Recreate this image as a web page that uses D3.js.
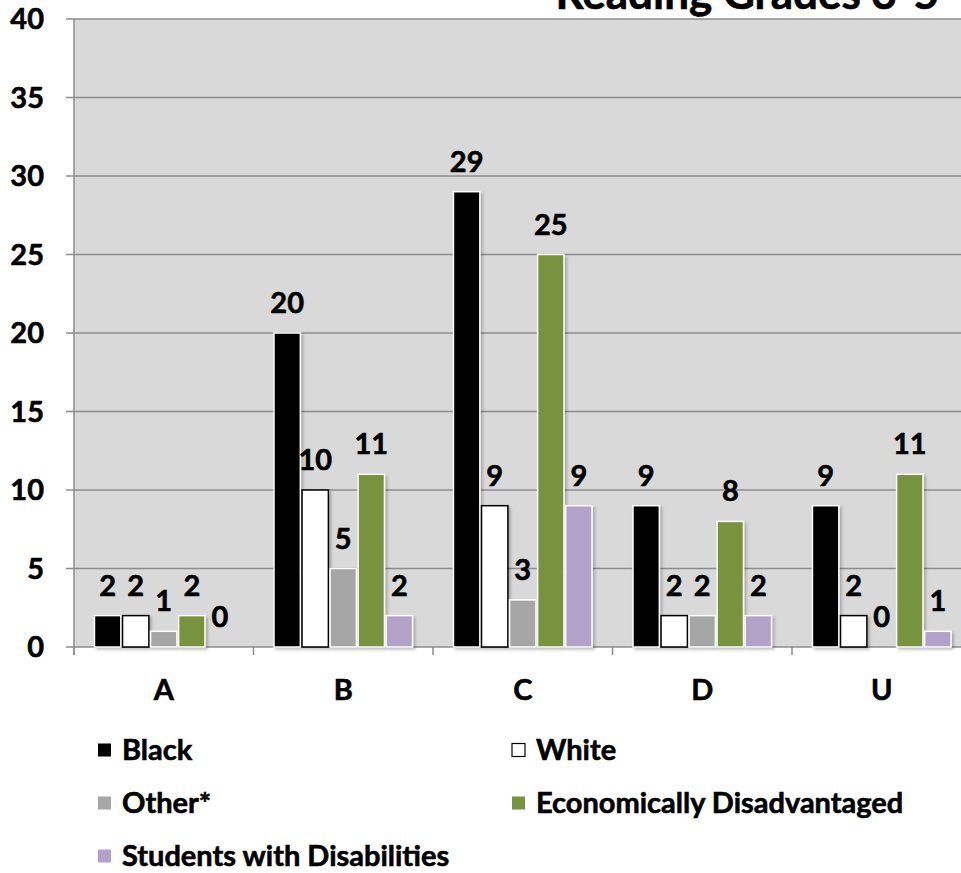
<!DOCTYPE html>
<html>
<head>
<meta charset="utf-8">
<script src="https://cdn.jsdelivr.net/npm/d3@7"></script>
<style>
  body { margin: 0; background: #fff; }
  text { font-family: Lato, 'Open Sans', sans-serif; font-weight: bold; stroke: #000; stroke-width: 0.6px; }
</style>
</head>
<body>
<div id="chart"></div>
<script>
const grades = ['A', 'B', 'C', 'D', 'U']
const seriesNames = ['Black', 'White', 'Other*', 'Economically Disadvantaged', 'Students with Disabilities']
const black = [2, 20, 29, 9, 9]
const white = [2, 10, 9, 2, 2]
const other = [1, 5, 3, 2, 0]
const econ = [2, 11, 25, 8, 11]
const swd = [0, 2, 9, 2, 1]
const yTicks = [0, 5, 10, 15, 20, 25, 30, 35, 40]

const values = [black, white, other, econ, swd]
const fills = ['#000000', '#ffffff', '#a6a6a6', '#77933c', '#b3a2c7']
const strokes = ['#ffffff', '#000000', '#ffffff', '#ffffff', '#ffffff']

const width = 961
const height = 873
const margin = { top: 19, left: 74, bottom: 226 }
const plotRight = 74 + 5 * 179.5
const fontSize = '29px'

const svg = d3
  .select('#chart')
  .append('svg')
  .attr('width', width)
  .attr('height', height)

const defs = svg.append('defs')
defs
  .append('filter')
  .attr('id', 'shadow')
  .attr('x', '-20%')
  .attr('y', '-20%')
  .attr('width', '160%')
  .attr('height', '140%')
  .append('feDropShadow')
  .attr('dx', 2)
  .attr('dy', 2)
  .attr('stdDeviation', 1.5)
  .attr('flood-color', '#000')
  .attr('flood-opacity', 0.25)

const x0 = d3
  .scaleBand()
  .domain(grades)
  .range([margin.left, plotRight])

const x1 = d3
  .scaleBand()
  .domain(d3.range(seriesNames.length))
  .range([0, x0.bandwidth()])
  .paddingOuter(0.73)
  .paddingInner(0.06)

const y = d3
  .scaleLinear()
  .domain([0, 40])
  .range([height - margin.bottom, margin.top])

// Plot background
svg
  .append('rect')
  .attr('x', margin.left)
  .attr('y', y(40))
  .attr('width', plotRight - margin.left)
  .attr('height', y(0) - y(40))
  .attr('fill', '#d9d9d9')

// Title (partly cut at top in the original)
svg
  .append('text')
  .attr('x', 939)
  .attr('y', 9)
  .attr('text-anchor', 'end')
  .style('font-size', '44px')
  .text('Reading Grades 3-5')

// Gridlines
svg
  .selectAll('.grid')
  .data(yTicks)
  .enter()
  .append('line')
  .attr('x1', margin.left - 8)
  .attr('x2', plotRight)
  .attr('y1', d => y(d))
  .attr('y2', d => y(d))
  .attr('stroke', '#8c8c8c')
  .attr('stroke-width', 1.5)

// Y axis
svg
  .append('line')
  .attr('x1', margin.left)
  .attr('x2', margin.left)
  .attr('y1', y(40))
  .attr('y2', y(0) + 8)
  .attr('stroke', '#8c8c8c')
  .attr('stroke-width', 1.5)

svg
  .selectAll('.ylabel')
  .data(yTicks)
  .enter()
  .append('text')
  .attr('x', 44)
  .attr('y', d => y(d))
  .attr('dy', '0.36em')
  .attr('text-anchor', 'end')
  .style('font-size', fontSize)
  .text(d => d)

// X axis ticks
svg
  .selectAll('.xtick')
  .data(d3.range(grades.length + 1))
  .enter()
  .append('line')
  .attr('x1', i => margin.left + i * x0.step())
  .attr('x2', i => margin.left + i * x0.step())
  .attr('y1', y(0))
  .attr('y2', y(0) + 8)
  .attr('stroke', '#8c8c8c')
  .attr('stroke-width', 1.5)

svg
  .selectAll('.xlabel')
  .data(grades)
  .enter()
  .append('text')
  .attr('x', d => x0(d) + x0.bandwidth() / 2)
  .attr('y', 700)
  .attr('text-anchor', 'middle')
  .style('font-size', fontSize)
  .text(d => d)

// Bars
const groups = svg
  .selectAll('.group')
  .data(grades)
  .enter()
  .append('g')
  .attr('transform', d => `translate(${x0(d)},0)`)

groups.each(function(g, gi) {
  const sel = d3.select(this)
  values.forEach((vals, si) => {
    const v = vals[gi]
    if (v > 0) {
      sel
        .append('rect')
        .attr('x', x1(si))
        .attr('y', y(v))
        .attr('width', x1.bandwidth())
        .attr('height', y(0) - y(v))
        .attr('fill', fills[si])
        .attr('stroke', strokes[si])
        .attr('stroke-width', 1.5)
        .attr('filter', 'url(#shadow)')
    }
    sel
      .append('text')
      .attr('x', x1(si) + x1.bandwidth() / 2)
      .attr('y', y(v) - 20)
      .attr('text-anchor', 'middle')
      .style('font-size', fontSize)
      .text(v)
  })
})

// Legend
const legendPos = [
  [98, 750],
  [512, 750],
  [98, 803],
  [512, 803],
  [98, 856]
]

const legend = svg
  .selectAll('.legend')
  .data(seriesNames)
  .enter()
  .append('g')
  .attr('transform', (d, i) => `translate(${legendPos[i][0]},${legendPos[i][1]})`)

legend
  .append('rect')
  .attr('x', 0)
  .attr('y', -6.5)
  .attr('width', 13)
  .attr('height', 13)
  .attr('fill', (d, i) => fills[i])
  .attr('stroke', (d, i) => (i === 1 ? '#000' : 'none'))
  .attr('stroke-width', 1.2)

legend
  .append('text')
  .attr('x', 24)
  .attr('y', 10)
  .style('font-size', fontSize)
  .text(d => d)
</script>
</body>
</html>
